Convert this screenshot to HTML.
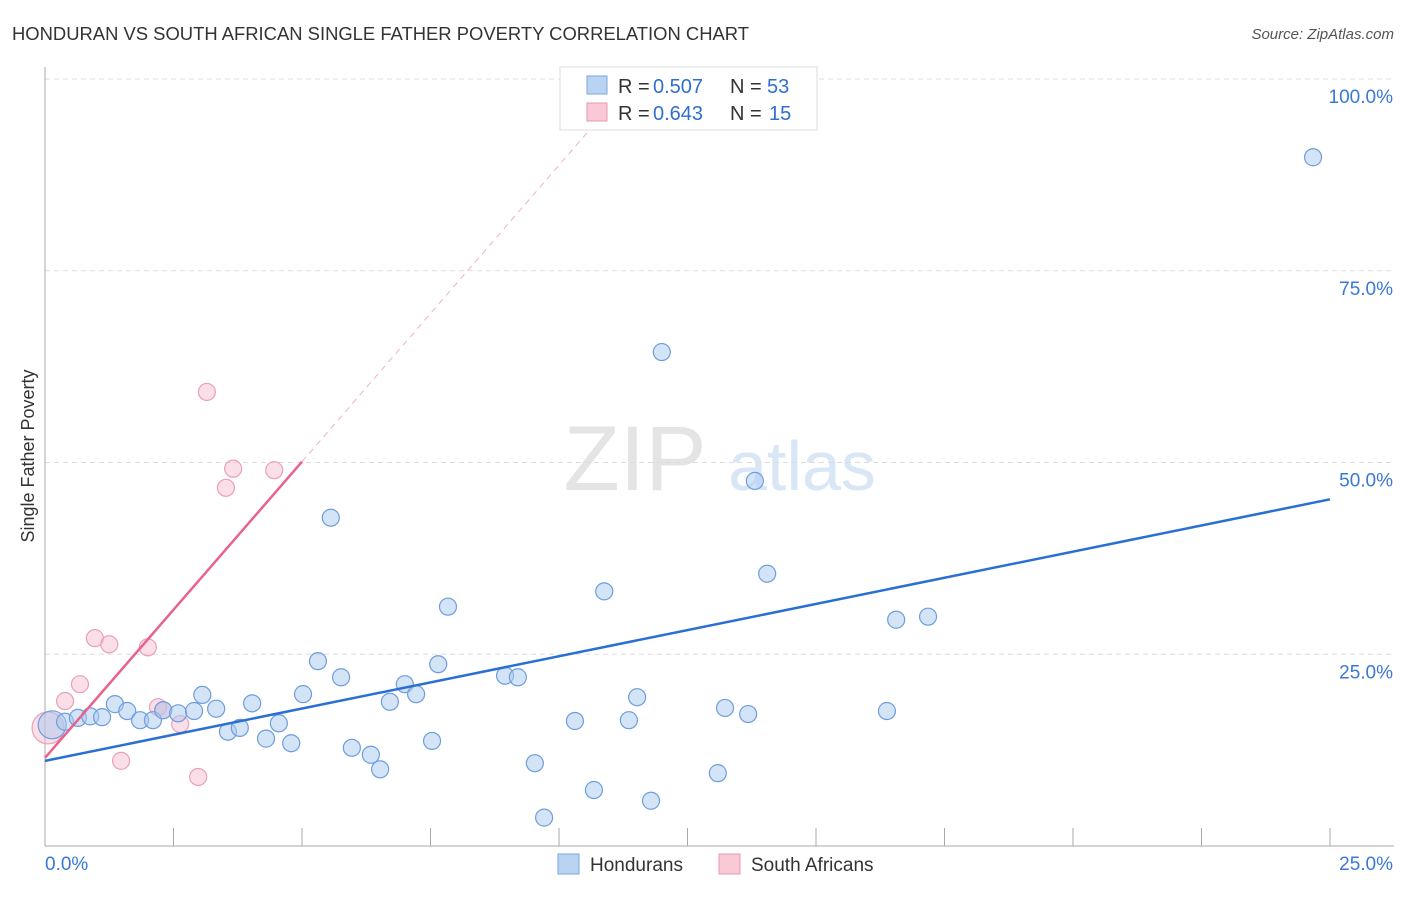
<!DOCTYPE html>
<html><head><meta charset="utf-8"><style>
body{margin:0;background:#fff;font-family:"Liberation Sans",sans-serif}
svg text{font-family:"Liberation Sans",sans-serif}
</style></head><body>
<svg width="1406" height="892" id="c">
<text x="12" y="40" font-size="18" fill="#333" textLength="737" lengthAdjust="spacingAndGlyphs">HONDURAN VS SOUTH AFRICAN SINGLE FATHER POVERTY CORRELATION CHART</text>
<text x="1394" y="39" font-size="15" fill="#555" font-style="italic" text-anchor="end">Source: ZipAtlas.com</text>
<text x="34" y="456" font-size="18" fill="#333" text-anchor="middle" transform="rotate(-90 34 456)">Single Father Poverty</text>
<g><text x="635" y="490" font-size="92" fill="#e4e4e4" text-anchor="middle" font-family="Liberation Serif">ZIP</text><text x="802" y="490" font-size="70" fill="#d8e6f6" text-anchor="middle">atlas</text></g>
<g id="grid"></g><g id="marks"></g>
<g>
<rect x="560" y="67" width="257" height="63" fill="#fff" stroke="#ddd"/>
<rect x="587" y="76" width="20" height="18" fill="#b9d3f3" stroke="#7aa7e0"/>
<text x="618" y="93" font-size="20" fill="#333">R =</text><text x="653" y="93" font-size="20" fill="#2f6fd0">0.507</text>
<text x="730" y="93" font-size="20" fill="#333">N =</text><text x="767" y="93" font-size="20" fill="#2f6fd0">53</text>
<rect x="587" y="103" width="20" height="18" fill="#f9c9d6" stroke="#e89ab0"/>
<text x="618" y="120" font-size="20" fill="#333">R =</text><text x="653" y="120" font-size="20" fill="#2f6fd0">0.643</text>
<text x="730" y="120" font-size="20" fill="#333">N =</text><text x="769" y="120" font-size="20" fill="#2f6fd0">15</text>
</g>
<g>
<rect x="558" y="854" width="21" height="20" fill="#b9d3f3" stroke="#7aa7e0"/>
<text x="590" y="871" font-size="19" fill="#333">Hondurans</text>
<rect x="719" y="854" width="21" height="20" fill="#f9c9d6" stroke="#e89ab0"/>
<text x="751" y="871" font-size="19" fill="#333">South Africans</text>
</g>
</svg>
<script>
const blueX=[0.14,0.39,0.64,0.88,1.11,1.36,1.60,1.85,2.10,2.30,2.59,2.90,3.06,3.33,3.56,3.79,4.03,4.30,4.55,4.79,5.02,5.31,5.56,5.76,5.97,6.34,6.52,6.71,7.00,7.22,7.53,7.65,7.84,8.95,9.20,9.53,9.71,10.31,10.68,10.88,11.36,11.52,11.79,12.00,13.09,13.23,13.68,13.81,14.05,16.38,16.56,17.18,24.67];
const blueY=[15.8,16.2,16.7,16.9,16.8,18.5,17.6,16.4,16.4,17.7,17.3,17.6,19.7,17.9,14.9,15.4,18.6,14.0,16.0,13.4,19.8,24.1,42.8,22.0,12.8,11.9,10.0,18.8,21.1,19.8,13.7,23.7,31.2,22.2,22.0,10.8,3.7,16.3,7.3,33.2,16.4,19.4,5.9,64.4,9.5,18.0,17.2,47.6,35.5,17.6,29.5,29.9,89.8];
const pinkX=[0.06,0.39,0.68,0.97,1.25,1.48,2.00,2.20,2.30,2.63,2.98,3.15,3.52,3.66,4.46];
const pinkY=[15.4,18.9,21.1,27.1,26.3,11.1,25.9,18.1,17.7,15.9,9.0,59.2,46.7,49.2,49.0];
const yTicks=[25,50,75,100];
const yTickLabels=["25.0%","50.0%","75.0%","100.0%"];
const xTicks=[0,2.5,5,7.5,10,12.5,15,17.5,20,22.5,25];
const blueTrend=[[0,11.1],[25,45.2]];
const pinkTrend=[[0,11.5],[5,50.1]];
const pinkDash=[[5,50.1],[10.6,93.4]];
const X=v=>45+v*51.4, Y=v=>846-v*7.67;
const NS="http://www.w3.org/2000/svg";
function mk(t,a,p){const e=document.createElementNS(NS,t);for(const k in a)e.setAttribute(k,a[k]);p.appendChild(e);return e;}
const g=document.getElementById('grid'),m=document.getElementById('marks');
yTicks.forEach((t,i)=>{
 const l=mk('line',{x1:45,x2:1394,y1:Y(t),y2:Y(t),stroke:'#ddd','stroke-dasharray':'5,4'},g);
 
 
 const tx=mk('text',{x:1393,y:Y(t)+24,'font-size':19,fill:'#3a78d6','text-anchor':'end'},g);tx.textContent=yTickLabels[i];
 
 
});
const ax=mk('line',{x1:45,x2:45,y1:67,y2:846,stroke:'#aaa'},g);


const bx=mk('line',{x1:45,x2:1394,y1:846,y2:846,stroke:'#aaa'},g);


xTicks.forEach(t=>{const l=mk('line',{x1:X(t),x2:X(t),y1:828,y2:846,stroke:'#aaa'},g);
 
 });
const x0=mk('text',{x:45,y:870,'font-size':19,fill:'#3a78d6'},g);x0.textContent='0.0%';


const x1=mk('text',{x:1393,y:870,'font-size':19,fill:'#3a78d6','text-anchor':'end'},g);x1.textContent='25.0%';


pinkX.forEach((v,i)=>{const c=mk('circle',{cx:X(v),cy:Y(pinkY[i]),r:i==0?16:8.5,fill:'rgba(247,185,203,0.45)',stroke:'#eaa0b6','stroke-width':1.2},m);
 
 });
blueX.forEach((v,i)=>{const c=mk('circle',{cx:X(v),cy:Y(blueY[i]),r:i==0?14:8.5,fill:'rgba(170,202,240,0.5)',stroke:'#6f9ddc','stroke-width':1.2},m);
 
 });
const bt=mk('line',{x1:X(blueTrend[0][0]),y1:Y(blueTrend[0][1]),x2:X(blueTrend[1][0]),y2:Y(blueTrend[1][1]),stroke:'#2a6fd4','stroke-width':2.5},m);


const pt=mk('line',{x1:X(pinkTrend[0][0]),y1:Y(pinkTrend[0][1]),x2:X(pinkTrend[1][0]),y2:Y(pinkTrend[1][1]),stroke:'#e8628c','stroke-width':2.5},m);


const pd=mk('line',{x1:X(pinkDash[0][0]),y1:Y(pinkDash[0][1]),x2:X(pinkDash[1][0]),y2:Y(pinkDash[1][1]),stroke:'#f0b0c4','stroke-width':1,'stroke-dasharray':'6,5'},m);


</script>
</body></html>
